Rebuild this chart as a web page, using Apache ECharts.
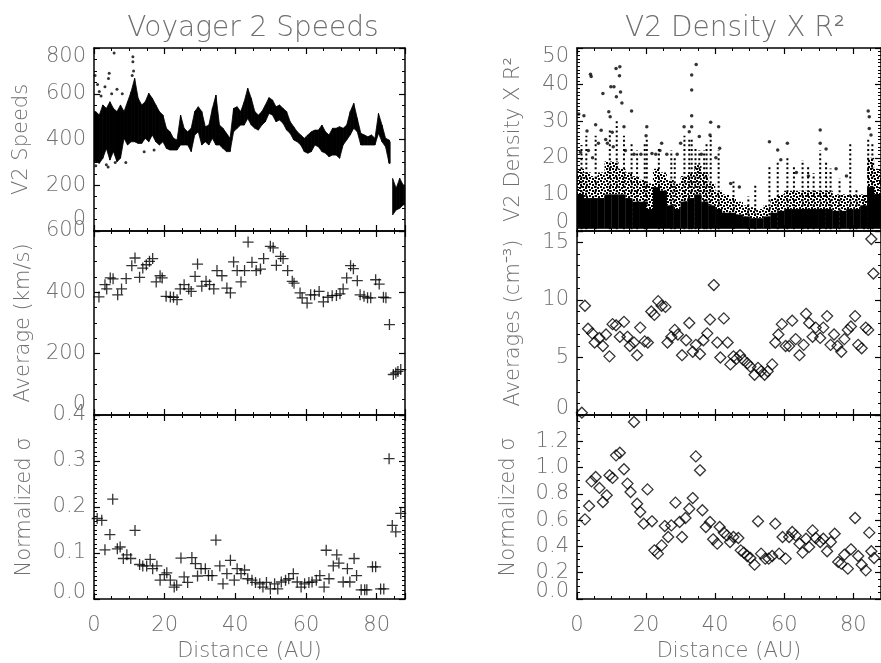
<!DOCTYPE html>
<html><head><meta charset="utf-8">
<script src="https://cdn.jsdelivr.net/npm/echarts@6/dist/echarts.min.js"></script>
<style>html,body{margin:0;padding:0;background:#fff}#c{width:881px;height:663px}</style>
</head><body><div id="c"></div><script>
// ---------- Panel 1: Voyager 2 speeds (dense daily data, read as per-AU envelope) ----------
const speedBinX = [0.5,1.5,2.5,3.5,4.5,5.5,6.5,7.5,8.5,9.5,10.5,11.5,12.5,13.5,14.5,15.5,16.5,17.5,18.5,19.5,20.5,21.5,22.5,23.5,24.5,25.5,26.5,27.5,28.5,29.5,30.5,31.5,32.5,33.5,34.5,35.5,36.5,37.5,38.5,39.5,40.5,41.5,42.5,43.5,44.5,45.5,46.5,47.5,48.5,49.5,50.5,51.5,52.5,53.5,54.5,55.5,56.5,57.5,58.5,59.5,60.5,61.5,62.5,63.5,64.5,65.5,66.5,67.5,68.5,69.5,70.5,71.5,72.5,73.5,74.5,75.5,76.5,77.5,78.5,79.5,80.5,81.5,82.5,83.5,84.5,85.5,86.5,87.5];
const speedLo = [303,296,318,361,310,347,303,318,405,376,390,390,383,383,405,390,420,390,376,390,361,354,354,354,376,376,376,347,420,434,376,390,376,405,376,376,361,347,347,434,449,463,463,492,463,449,441,463,478,514,507,478,485,471,441,427,398,390,376,347,340,347,376,368,347,340,325,332,332,318,376,398,420,449,434,376,376,376,376,376,427,390,368,296,70,92,99,114];
const speedHi = [522,507,551,536,565,536,522,551,522,565,609,667,580,551,565,602,580,551,522,507,449,434,405,398,507,449,434,449,522,543,522,456,463,536,594,463,449,427,405,536,543,522,565,624,580,522,507,522,551,583,573,543,551,536,522,478,456,434,420,405,420,434,441,441,463,434,420,449,449,456,449,463,522,558,492,427,420,412,420,405,514,463,405,398,230,187,230,201];
const speedOutX = [0.3,1.0,1.5,2.0,3.1,4.1,4.3,5.7,5.0,6.5,8.0,11.0,11.0,11.2,10.8,14.2,17.0,4.0,3.5,0.5,6.0,9.0];
const speedOutY = [680,640,610,590,631,667,690,778,600,620,600,762,740,700,680,346,354,280,290,285,300,300];
const speedGapAfter = 83.5; // data gap between 83.5 and 84.5 AU

// ---------- Panel 2: averaged speeds ----------
const avgSpeedX = [1.4,3.1,3.6,4.6,5.4,6.7,7.8,9.1,10.7,11.6,12.9,13.8,14.8,15.7,16.6,17.6,18.7,19.3,20.4,21.6,22.5,23.5,24.4,25.5,26.8,27.5,28.6,29.3,30.5,31.7,32.7,33.9,34.8,36.2,37.6,38.6,39.5,40.5,41.6,42.6,43.6,44.7,45.9,47.1,48.0,49.9,50.7,51.6,52.8,53.5,54.8,56.1,56.6,58.3,58.9,60.3,61.3,62.4,63.7,64.9,66.2,67.4,68.6,69.6,70.5,71.5,72.6,73.4,74.5,75.3,76.4,77.4,78.3,79.7,80.7,81.9,82.6,83.6,84.7,85.4,86.0,86.8];
const avgSpeedY = [385,425,411,447,444,392,411,445,487,512,449,479,490,501,510,434,454,447,387,385,384,376,411,425,411,403,452,492,420,436,425,411,471,454,414,398,499,471,434,471,564,498,471,476,510,550,545,488,517,510,471,436,430,398,382,365,392,392,403,369,384,389,390,395,411,447,487,477,438,392,387,382,382,441,427,384,382,295,132,137,142,148];

// ---------- Panel 3: normalized sigma of speed ----------
const sigSpeedX = [0.9,2.2,3.1,4.5,5.3,6.6,7.4,8.3,9.3,10.4,11.6,12.9,13.8,14.9,15.9,16.6,17.8,18.7,19.9,20.6,21.6,22.7,23.4,24.6,25.5,26.5,27.7,28.7,29.3,30.3,31.5,32.4,33.4,34.5,35.6,36.5,37.6,38.6,39.7,40.5,41.6,42.6,43.5,44.7,45.7,46.9,47.8,48.8,49.9,51.1,52.0,53.0,54.2,55.1,56.4,57.5,58.6,59.6,60.8,61.7,62.9,63.9,65.1,65.7,66.5,67.7,68.7,69.3,70.5,71.7,72.4,73.6,74.3,75.6,76.6,77.2,78.8,79.7,81.1,82.0,83.5,84.4,85.4,86.8];
const sigSpeedY = [0.175,0.171,0.107,0.140,0.217,0.109,0.113,0.088,0.096,0.088,0.149,0.075,0.072,0.072,0.086,0.066,0.072,0.041,0.053,0.057,0.041,0.026,0.030,0.089,0.048,0.036,0.090,0.077,0.050,0.066,0.066,0.051,0.051,0.128,0.072,0.033,0.055,0.084,0.041,0.066,0.055,0.063,0.044,0.041,0.036,0.033,0.026,0.036,0.022,0.033,0.022,0.037,0.041,0.044,0.055,0.037,0.026,0.033,0.036,0.037,0.041,0.051,0.026,0.106,0.044,0.072,0.096,0.078,0.037,0.066,0.037,0.088,0.051,0.020,0.020,0.020,0.070,0.070,0.022,0.022,0.305,0.160,0.146,0.186];

// ---------- Panel 4: V2 density x R^2 (dense daily data, read as 2-AU envelope) ----------
const densBinX = [1,3,5,7,9,11,13,15,17,19,21,23,25,27,29,31,33,35,37,39,41,43,45,47,49,51,53,55,57,59,61,63,65,67,69,71,73,75,77,79,81,83,85,87];
const densCore = [10,9,9,9,10,10,10,9,8,8,6,12,11,7,6,8,9,10,8,7,6,5,5,4.5,4,3.5,3.5,4,5,5.5,6,6,6,6,6,6,6,5.5,5.5,6,6,7,12,10];
const densFringe = [17,16,15,16,19,19,17,16,15,14,13,17,16,14,13,15,16,18,16,13,11,10,9,8,7,6.5,6,7,9,10,11,11,11,11,11,11,11,10,10,10,10,10,20,17];
const densStrandX = [1.3,2.7,5.4,9.5,11.5,13.6,15.8,17.4,19.6,20.2,23.7,27.3,28.3,31.1,32.5,33.2,34.3,35.4,36.8,37.5,38.7,41.0,45.3,49.6,51.6,55.7,58.1,60.9,62.8,65.3,66.9,68.5,70.4,72.1,73.4,76.0,79.1,80.9,83.1,84.3,85.5];
const densStrandTop = [23.5,26,26,28,30,26,24,22,24,25,23,22,19.9,26,25,25,23,22,22,24,26,22,13.5,9.4,13,18,19,20,17.6,19.4,17.6,15.8,22,19,17.1,14.4,24.4,11.7,10.3,25,24.4];
const densOutX = [0.5,2.0,3.9,4.1,2.9,5.4,7.5,8.3,9.2,9.6,9.8,10.7,11.3,12.4,12.3,11.4,12.6,13.0,13.6,15.8,20.2,20.0,21.7,24.5,31.0,32.5,33.2,33.2,33.2,33.2,34.5,35.4,38.7,38.5,41.0,41.3,55.7,58.1,60.9,70.4,70.4,72.1,84.3,84.6,84.6,85.1,1.0,3.3,4.5,6.2,7.0,8.8,10.2,10.5,14.0,16.5,18.5,22.8,24.0,26.0,29.0,30.0,36.0,40.2,44.5,47.0,59.0,63.5,67.0,75.0,78.0];
const densOutY = [32,31.5,42.8,42.2,27.3,29,37.6,25,32.6,31.2,39.4,39.4,44.4,44.9,42.4,36.7,38,35,28.5,32.8,28.5,26,21.2,24,28.5,27.1,42.6,38.5,31.5,28.5,45.5,25.8,29.7,26.2,28.5,22.6,24.4,22.1,24,27.6,24,22.4,32.8,31.2,28,26.2,21.5,22,20,24,27.5,24,27,23,22,21,21,21,22,21,21,24,21,20,13,12,19.5,16,15,17,15];

// ---------- Panel 5: averaged density ----------
const avgDensX = [1.4,2.3,3.2,4.4,5.1,6.5,7.5,8.4,9.4,10.3,11.3,12.4,13.6,14.6,15.3,16.5,17.4,18.3,19.6,20.5,21.5,22.4,23.5,24.5,25.6,26.2,27.3,28.3,29.2,30.4,31.6,32.5,33.5,34.4,35.6,36.6,37.7,38.5,39.6,40.6,41.5,42.5,43.6,44.4,45.3,46.2,47.2,48.1,49.3,50.2,51.4,52.4,53.3,54.3,55.2,56.5,57.4,58.3,59.3,60.4,61.4,62.3,63.3,64.4,65.6,66.3,67.2,68.2,69.1,70.4,71.3,72.4,73.4,74.4,75.4,76.5,77.4,78.4,79.3,80.5,81.4,82.4,83.6,84.3,85.2,85.8];
const avgDensY = [0.2,9.5,7.5,7.1,6.3,6.7,6.0,7.0,5.1,7.9,7.8,6.8,8.1,6.8,6.0,6.3,5.2,7.6,6.4,6.3,9.0,8.7,9.9,9.5,9.4,6.3,6.8,7.4,7.0,5.2,6.5,8.0,5.5,6.1,5.3,6.5,7.1,8.3,11.3,6.3,5.0,8.4,6.3,4.4,5.1,4.9,5.2,4.8,4.5,4.2,3.5,4.1,3.8,3.5,3.8,4.4,6.3,7.0,7.9,6.0,6.0,8.2,6.6,5.2,6.1,8.8,8.0,6.8,7.6,6.7,7.6,8.6,6.1,7.0,6.0,5.5,6.6,7.4,7.7,8.6,6.1,5.8,7.6,7.4,15.3,12.3];

// ---------- Panel 6: normalized sigma of density ----------
const sigDensX = [2.3,3.5,4.2,5.4,6.5,7.5,8.6,9.4,10.3,11.3,12.4,13.6,14.6,15.5,16.5,17.4,18.3,19.3,20.4,21.7,22.4,23.4,24.5,25.4,26.4,27.3,28.5,29.7,30.4,31.4,32.5,33.5,34.4,35.6,36.3,37.3,38.5,39.4,40.6,41.3,42.5,43.4,44.3,45.3,46.7,47.4,48.3,49.3,50.2,51.4,52.4,53.3,54.5,55.5,56.5,57.4,58.5,59.5,60.4,61.4,62.3,63.3,64.4,65.3,66.3,67.2,68.2,69.1,70.4,71.3,72.4,73.5,74.6,75.6,76.5,77.4,78.4,79.3,80.5,81.4,82.4,83.6,84.6,85.2,86.0];
const sigDensY = [0.606,0.708,0.895,0.928,0.845,0.738,0.789,0.941,0.921,1.093,1.113,0.987,0.878,0.814,1.347,0.725,0.662,0.573,0.834,0.591,0.370,0.345,0.408,0.555,0.472,0.560,0.733,0.586,0.472,0.616,0.687,0.768,1.085,0.979,0.675,0.548,0.586,0.454,0.421,0.548,0.505,0.484,0.434,0.472,0.464,0.370,0.353,0.327,0.312,0.261,0.591,0.345,0.307,0.307,0.327,0.573,0.345,0.472,0.307,0.472,0.510,0.484,0.421,0.353,0.459,0.396,0.522,0.464,0.434,0.459,0.363,0.434,0.497,0.282,0.269,0.337,0.231,0.378,0.616,0.327,0.261,0.218,0.505,0.363,0.312];

// ---------- Labels ----------
const titles = ['Voyager 2 Speeds', 'V2 Density X R²'];
const yNames = ['V2 Speeds', 'Average (km/s)', 'Normalized σ', 'V2 Density X R²', 'Averages (cm⁻³)', 'Normalized σ'];
const xName = 'Distance (AU)';

// ---------- Build chart ----------
const FONT = 'DejaVu Sans', TXT = '#707070', FS = 21, FW = 200;
const zip2 = (a, b) => a.map((v, i) => [v, b[i]]);
const zip3 = (a, b, c) => a.map((v, i) => [v, b[i], c[i]]);

const grids = [
  {left: 94, top: 48, width: 311, height: 183},
  {left: 94, top: 231, width: 311, height: 184},
  {left: 94, top: 415, width: 311, height: 184},
  {left: 577, top: 48, right: -6, height: 183},
  {left: 577, top: 231, right: -6, height: 184},
  {left: 577, top: 415, right: -6, height: 184}
];
// sep: the shifted min label is drawn by a separate overlay axis (avoids auto-hiding its neighbour)
const ySpec = [
  {min: 0, max: 800, interval: 200, minor: 4, dec: 0, lo: 11, hi: 9, showMax: true, gap: 62, sep: false},
  {min: 0, max: 600, interval: 200, minor: 4, dec: 0, lo: 10, hi: 0, showMax: true, gap: 60, sep: false},
  {min: 0, max: 0.4, interval: 0.1, minor: 10, dec: 1, lo: 6, hi: 0, showMax: true, gap: 59, sep: false},
  {min: 0, max: 50, interval: 10, minor: 10, dec: 0, lo: 8, hi: 9, showMax: true, gap: 53, sep: false},
  {min: 0, max: 16, interval: 5, minor: 5, dec: 0, lo: 6, hi: 0, showMax: false, gap: 53, sep: false},
  {min: 0, max: 1.4, interval: 0.2, minor: 4, dec: 1, lo: 7, hi: 0, showMax: false, gap: 58, sep: true}
];

const lineSt = {color: '#000', width: 1.5};
const txt = {fontSize: FS, fontFamily: FONT, fontWeight: FW, color: TXT};
const xAxes = [], yAxes = [], extraY = [];
function richFor(s) {
  return {
    lo: Object.assign({lineHeight: 6, padding: [0, 0, 2 * s.lo, 0]}, txt),
    hi: Object.assign({lineHeight: 6, padding: [2 * s.hi, 0, 0, 0]}, txt)
  };
}
grids.forEach((g, i) => {
  const bottomPanel = (i === 2 || i === 5);
  ['bottom', 'top'].forEach(pos => {
    const isLab = bottomPanel && pos === 'bottom';
    xAxes.push({
      type: 'value', gridIndex: i, position: pos, min: 0, max: 88, interval: 20,
      axisLine: {show: true, onZero: false, lineStyle: lineSt},
      axisTick: {show: true, inside: true, length: 6, lineStyle: {color: '#000', width: 1.2}},
      minorTick: {show: true, splitNumber: 4, length: 3, lineStyle: {color: '#000', width: 1}},
      splitLine: {show: false},
      axisLabel: Object.assign({show: isLab, showMinLabel: true, showMaxLabel: false, margin: 16}, txt),
      name: isLab ? xName : '', nameLocation: 'middle', nameGap: 42,
      nameTextStyle: txt
    });
  });
  const s = ySpec[i];
  const fmt = v => s.dec ? v.toFixed(s.dec) : String(Math.round(v));
  ['left', 'right'].forEach(pos => {
    const isLab = pos === 'left';
    yAxes.push({
      type: 'value', gridIndex: i, position: pos, min: s.min, max: s.max, interval: s.interval,
      axisLine: {show: true, onZero: false, lineStyle: lineSt},
      axisTick: {show: true, inside: true, length: 6, lineStyle: {color: '#000', width: 1.2}},
      minorTick: {show: true, splitNumber: s.minor, length: 3, lineStyle: {color: '#000', width: 1}},
      splitLine: {show: false},
      axisLabel: Object.assign({
        show: isLab, showMinLabel: !s.sep, showMaxLabel: s.showMax, margin: 8,
        formatter: v => {
          const t = fmt(v);
          if (Math.abs(v - s.min) < 1e-9 && s.lo) return '{lo|' + t + '}';
          if (Math.abs(v - s.max) < 1e-9 && s.hi) return '{hi|' + t + '}';
          return t;
        },
        rich: richFor(s)
      }, txt),
      name: isLab ? yNames[i] : '', nameLocation: 'middle', nameGap: s.gap,
      nameTextStyle: txt
    });
  });
  if (s.sep) {
    extraY.push({
      type: 'value', gridIndex: i, position: 'left', min: s.min, max: s.max, interval: s.interval,
      axisLine: {show: false}, axisTick: {show: false}, minorTick: {show: false}, splitLine: {show: false},
      axisLabel: Object.assign({
        show: true, showMinLabel: true, showMaxLabel: false, margin: 8,
        formatter: v => Math.abs(v - s.min) < 1e-9 ? '{lo|' + fmt(v) + '}' : '',
        rich: richFor(s)
      }, txt)
    });
  }
});
const allY = yAxes.concat(extraY);

// speckle pattern for the fringe of the dense density cloud
const pc = document.createElement('canvas'); pc.width = 6; pc.height = 6;
const pctx = pc.getContext('2d'); pctx.fillStyle = '#000';
[[0, 0], [3, 1], [1, 3], [4, 4]].forEach(([a, b]) => pctx.fillRect(a, b, 2, 2));
const speckle = {image: pc, repeat: 'repeat'};

function bandRender(halfW, fill) {
  return function (params, api) {
    const x = api.value(0), lo = api.value(1), hi = api.value(2);
    const p1 = api.coord([x - halfW, hi]);
    const p2 = api.coord([x + halfW, lo]);
    return {type: 'rect', shape: {x: p1[0], y: p1[1], width: p2[0] - p1[0], height: p2[1] - p1[1]}, style: {fill: fill}};
  };
}
// envelope polygon between consecutive bins (smooth band)
function envRender(params, api) {
  const i = params.dataIndexInside, n = params.dataInsideLength;
  const x0 = api.value(0, i), lo0 = api.value(1, i), hi0 = api.value(2, i);
  let pts;
  if (i + 1 >= n) {
    pts = [[x0, hi0], [x0 + 0.5, hi0], [x0 + 0.5, lo0], [x0, lo0]];
  } else if (x0 === speedGapAfter) {
    pts = [[x0 - 0.01, hi0], [x0 + 0.3, hi0 - 10], [x0 + 0.3, lo0], [x0 - 0.01, lo0]];
  } else {
    const x1 = api.value(0, i + 1), lo1 = api.value(1, i + 1), hi1 = api.value(2, i + 1);
    pts = [[x0, hi0], [x1, hi1], [x1, lo1], [x0, lo0]];
    if (i === 0) pts = [[x0 - 0.5, hi0]].concat(pts).concat([[x0 - 0.5, lo0]]);
    if (x1 === speedGapAfter + 1) pts = [[x1 - 0.2, hi1], [x1, hi1], [x1, lo1], [x1 - 0.2, lo1]];
  }
  return {type: 'polygon', shape: {points: pts.map(p => api.coord(p))},
    style: {fill: '#000', stroke: '#000', lineWidth: 0.8}};
}
function strandRender(params, api) {
  const x = api.value(0), top = api.value(1);
  const a = api.coord([x, 0.5]), b = api.coord([x, top]);
  return {type: 'line', shape: {x1: a[0], y1: a[1], x2: b[0], y2: b[1]},
    style: {stroke: '#000', lineWidth: 2, lineDash: [2, 2.6]}};
}

const PLUS = 'path://M0,5H10M5,0V10';
const plusStyle = {color: '#000', borderColor: '#000', borderWidth: 1.3};
const diaStyle = {color: 'rgba(0,0,0,0)', borderColor: '#000', borderWidth: 1.3};

const series = [
  {type: 'custom', xAxisIndex: 0, yAxisIndex: 0, clip: true, renderItem: envRender,
    encode: {x: 0, y: [1, 2]}, data: zip3(speedBinX, speedLo, speedHi)},
  {type: 'scatter', xAxisIndex: 0, yAxisIndex: 0, symbol: 'circle', symbolSize: 3,
    itemStyle: {color: '#000'}, data: zip2(speedOutX, speedOutY)},
  {type: 'scatter', xAxisIndex: 2, yAxisIndex: 2, symbol: PLUS, symbolSize: 11,
    itemStyle: plusStyle, data: zip2(avgSpeedX, avgSpeedY)},
  {type: 'scatter', xAxisIndex: 4, yAxisIndex: 4, symbol: PLUS, symbolSize: 11,
    itemStyle: plusStyle, data: zip2(sigSpeedX, sigSpeedY)},
  {type: 'custom', xAxisIndex: 6, yAxisIndex: 6, clip: true, renderItem: bandRender(1.02, speckle),
    encode: {x: 0, y: [1, 2]}, data: zip3(densBinX, densCore, densFringe)},
  {type: 'custom', xAxisIndex: 6, yAxisIndex: 6, clip: true, renderItem: bandRender(1.04, '#000'),
    encode: {x: 0, y: [1, 2]}, data: densBinX.map((x, i) => [x, 0.6, densCore[i]])},
  {type: 'custom', xAxisIndex: 6, yAxisIndex: 6, clip: true, renderItem: strandRender,
    encode: {x: 0, y: 1}, data: zip2(densStrandX, densStrandTop)},
  {type: 'scatter', xAxisIndex: 6, yAxisIndex: 6, symbol: 'circle', symbolSize: 3.5,
    itemStyle: {color: '#000'}, data: zip2(densOutX, densOutY)},
  {type: 'scatter', xAxisIndex: 8, yAxisIndex: 8, symbol: 'diamond', symbolSize: 11,
    itemStyle: diaStyle, data: zip2(avgDensX, avgDensY)},
  {type: 'scatter', xAxisIndex: 10, yAxisIndex: 10, symbol: 'diamond', symbolSize: 11,
    itemStyle: diaStyle, data: zip2(sigDensX, sigDensY)}
];

const chart = echarts.init(document.getElementById('c'), null, {renderer: 'canvas'});
const titleStyle = {fontSize: 28, fontWeight: FW, fontFamily: FONT, color: TXT};
chart.setOption({
  animation: false,
  backgroundColor: '#fff',
  title: [
    {text: titles[0], left: 248, top: 10, textAlign: 'center', textStyle: titleStyle},
    {text: titles[1], left: 730, top: 10, textAlign: 'center', textStyle: titleStyle}
  ],
  grid: grids,
  xAxis: xAxes,
  yAxis: allY,
  series: series
});
</script></body></html>
